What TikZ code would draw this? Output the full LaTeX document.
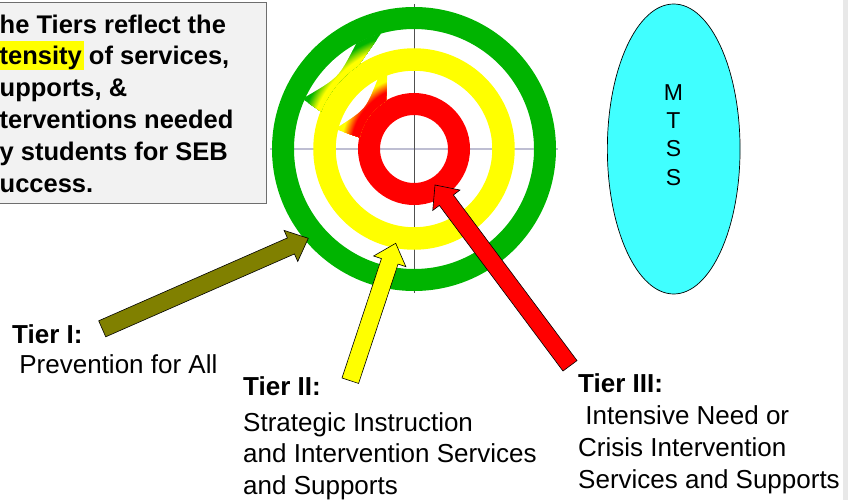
\documentclass[tikz,border=0pt]{standalone}
\usepackage{fontspec}
\setmainfont{Liberation Sans}
\usetikzlibrary{calc,shapes.geometric}

\definecolor{ringgreen}{RGB}{0,180,0}
\definecolor{ringyellow}{RGB}{255,255,0}
\definecolor{ringred}{RGB}{255,0,0}
\definecolor{arrowolive}{RGB}{128,128,0}
\definecolor{mtsscyan}{RGB}{64,255,255}
\definecolor{boxgray}{RGB}{242,242,242}
\definecolor{boxedge}{RGB}{110,110,110}
\definecolor{axisgray}{RGB}{80,80,80}
\definecolor{axislav}{RGB}{190,190,210}
\definecolor{edgestrip}{RGB}{232,232,232}

% block arrow from tail #1 to tip #2, filled with #3
\newcommand\tierarrow[3]{%
  \coordinate (neck) at ($(#2)!19pt!(#1)$);
  \draw[arrowline,fill=#3]
    ($(#1)!8.75pt!90:(#2)$) -- ($(neck)!8.75pt!90:(#2)$) -- ($(neck)!17pt!90:(#2)$)
    -- (#2) -- ($(neck)!17pt!-90:(#2)$) -- ($(neck)!8.75pt!-90:(#2)$)
    -- ($(#1)!8.75pt!-90:(#2)$) -- cycle;}

% radial blend around (ctr): #1 inner radius, #2 outer radius, #3 inner colour, #4 outer colour
\newcommand\ringblend[4]{%
  \fill[#4] (ctr) circle[radius=130pt];
  \foreach \k in {0,...,24}{%
    \pgfmathsetmacro\rad{#2-(#2-#1)*\k/24}%
    \pgfmathsetmacro\mix{100-100*\k/24}%
    \fill[#4!\mix!#3] (ctr) circle[radius=\rad pt];}}

\tikzset{
  arrowline/.style={draw=black,line width=0.6pt,line join=miter},
  tiertext/.style={anchor=north west,inner sep=0pt,align=left,
    font=\fontsize{26}{32}\selectfont},
}

\begin{document}
\begin{tikzpicture}[x=1pt,y=-1pt]
\useasboundingbox (0,0) rectangle (848,500);

% page edge strip
\fill[edgestrip] (843,0) rectangle (848,500);

% note box
\node[draw=boxedge,fill=boxgray,line width=1.3pt,anchor=north west,inner sep=0pt,
      minimum width=270.5pt,minimum height=201pt] (infobox) at (-5,2) {};
\fill[ringyellow] (0,41.5) rectangle (83.5,70.5);
\node[anchor=north west,inner sep=0pt,align=left,
      font=\bfseries\fontsize{25.5}{31.8}\selectfont] (infotext) at (-0.5,14.4)
  {he Tiers reflect the\\tensity of services,\\upports, \&\\terventions needed\\y students for SEB\\uccess.};

% target axes
\coordinate (ctr) at (414,149);
\coordinate (hl) at (270,149);
\coordinate (hr) at (558,149);
\coordinate (vt) at (414,4);
\coordinate (vb) at (414,293);
\draw[axislav,line width=1.5pt] (hl) -- (hr);
\draw[axisgray,line width=0.7pt] (vt) -- (vb);

% rings
\draw[ringgreen,line width=22pt] (ctr) circle[radius=131pt];
\draw[ringyellow,line width=22.5pt] (ctr) circle[radius=89.5pt];
\draw[ringred,line width=22pt] (ctr) circle[radius=45pt];

% green to yellow crossover
\coordinate (gA1) at ($(ctr)+(106:120pt)$);
\coordinate (gA2) at ($(ctr)+(123:100.75pt)$);
\coordinate (gB1) at ($(ctr)+(156:120pt)$);
\coordinate (gB2) at ($(ctr)+(158:100.75pt)$);
\begin{scope}[even odd rule]
  \clip (ctr) circle[radius=120.4pt] (ctr) circle[radius=100.3pt];
  \clip ($(gA2)!-0.6!(gA1)$) -- ($(gA1)!-0.6!(gA2)$) -- ($(ctr)+(135:260pt)$)
        -- ($(gB1)!-0.6!(gB2)$) -- ($(gB2)!-0.6!(gB1)$) -- (ctr) -- cycle;
  \ringblend{105}{116}{ringyellow}{ringgreen}
\end{scope}
\fill[white] ($(ctr)+(119:120pt)$) .. controls ($(ctr)+(136.5:104pt)$) .. ($(ctr)+(154:120pt)$)
  arc[start angle=154,end angle=119,radius=120pt] -- cycle;

% yellow to red crossover
\coordinate (yA1) at ($(ctr)+(110:78.25pt)$);
\coordinate (yA2) at ($(ctr)+(120:56pt)$);
\coordinate (yB1) at ($(ctr)+(166:78.25pt)$);
\coordinate (yB2) at ($(ctr)+(168:56pt)$);
\begin{scope}[even odd rule]
  \clip (ctr) circle[radius=78.7pt] (ctr) circle[radius=55.5pt];
  \clip ($(yA2)!-0.6!(yA1)$) -- ($(yA1)!-0.6!(yA2)$) -- ($(ctr)+(135:260pt)$)
        -- ($(yB1)!-0.6!(yB2)$) -- ($(yB2)!-0.6!(yB1)$) -- (ctr) -- cycle;
  \ringblend{63}{73}{ringred}{ringyellow}
\end{scope}
\fill[white] ($(ctr)+(118:78.25pt)$) .. controls ($(ctr)+(140.5:62.8pt)$) .. ($(ctr)+(163:78.25pt)$)
  arc[start angle=163,end angle=118,radius=78.25pt] -- cycle;

% MTSS
\node[ellipse,draw=black,line width=0.7pt,fill=mtsscyan,inner sep=0pt,
      minimum width=132.7pt,minimum height=290pt] (mtss) at (673.7,149) {};
\node[anchor=north,inner sep=0pt,align=center,font=\fontsize{23}{28.33}\selectfont]
  (mtsstext) at (673.5,84) {M\\T\\S\\S};

% tier labels
\node[tiertext,font=\fontsize{26}{30}\selectfont] (tierone) at (12,324.1)
  {\textbf{Tier I:}\\\hspace*{7.2pt}Prevention for All};
\node[tiertext,font=\fontsize{26}{31.5}\selectfont] (tiertwo) at (243,376.4)
  {\textbf{Tier II:}\\[4.5pt]Strategic Instruction\\and Intervention Services\\and Supports};
\node[tiertext] (tierthree) at (578,373.4)
  {\textbf{Tier III:}\\\hspace*{7.2pt}Intensive Need or\\Crisis Intervention\\Services and Supports};

% arrows from labels to rings
\coordinate (oneTail) at (102.2,328.8);
\coordinate (oneTip) at (308.3,238.3);
\coordinate (twoTail) at (350.3,380.7);
\coordinate (twoTip) at (395.7,243.3);
\coordinate (threeTail) at (570,365.8);
\coordinate (threeTip) at (435,185);
\tierarrow{oneTail}{oneTip}{arrowolive}
\tierarrow{twoTail}{twoTip}{ringyellow}
\tierarrow{threeTail}{threeTip}{ringred}
\end{tikzpicture}
\end{document}
